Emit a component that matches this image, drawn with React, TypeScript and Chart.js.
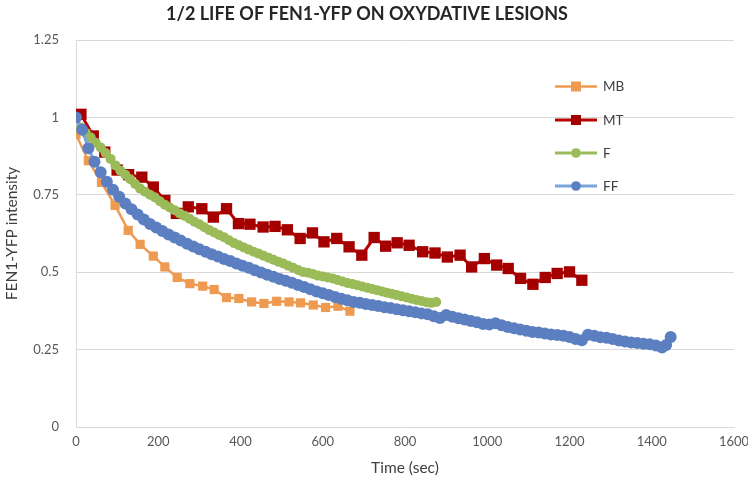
import React, { useEffect, useRef } from "react";
import { Chart, registerables } from "chart.js";

Chart.register(...registerables);

const chartTitle = "1/2 LIFE OF FEN1-YFP ON OXYDATIVE LESIONS";
const xTitle = "Time (sec)";
const yTitle = "FEN1-YFP intensity";
const seriesNames = ["MB", "MT", "F", "FF"];

const mbTime = [0, 30, 62, 95, 127, 156, 188, 216, 246, 277, 308, 336, 366, 396, 427, 457, 488, 518, 546, 577, 607, 637, 666];
const mbValue = [0.945, 0.86, 0.79, 0.716, 0.635, 0.59, 0.552, 0.517, 0.483, 0.463, 0.455, 0.444, 0.418, 0.415, 0.404, 0.399, 0.406, 0.404, 0.401, 0.394, 0.386, 0.39, 0.374];

const mtTime = [12, 42, 70, 100, 128, 160, 188, 216, 244, 273, 306, 334, 366, 395, 423, 455, 484, 514, 545, 575, 603, 634, 664, 695, 725, 753, 781, 810, 843, 873, 903, 934, 962, 993, 1023, 1051, 1081, 1111, 1141, 1170, 1200, 1230];
const mtValue = [1.01, 0.94, 0.888, 0.83, 0.815, 0.807, 0.775, 0.732, 0.69, 0.711, 0.705, 0.678, 0.705, 0.657, 0.655, 0.646, 0.648, 0.637, 0.609, 0.627, 0.598, 0.609, 0.582, 0.555, 0.612, 0.584, 0.595, 0.587, 0.566, 0.562, 0.549, 0.555, 0.517, 0.544, 0.523, 0.512, 0.48, 0.461, 0.483, 0.496, 0.501, 0.474];

const fTime = [0, 12, 24, 36, 48, 60, 72, 84, 96, 108, 120, 132, 144, 156, 168, 180, 192, 204, 216, 228, 240, 252, 264, 276, 288, 300, 312, 324, 336, 348, 360, 372, 384, 396, 408, 420, 432, 444, 456, 468, 480, 492, 504, 516, 528, 540, 552, 564, 576, 588, 600, 612, 624, 636, 648, 660, 672, 684, 696, 708, 720, 732, 744, 756, 768, 780, 792, 804, 816, 828, 840, 852, 864, 876];
const fValue = [1.0, 0.967, 0.95, 0.935, 0.918, 0.903, 0.885, 0.866, 0.845, 0.828, 0.815, 0.8, 0.785, 0.77, 0.76, 0.75, 0.741, 0.729, 0.718, 0.709, 0.7, 0.69, 0.682, 0.673, 0.663, 0.655, 0.645, 0.636, 0.628, 0.62, 0.613, 0.603, 0.594, 0.587, 0.58, 0.573, 0.566, 0.56, 0.553, 0.547, 0.54, 0.534, 0.528, 0.521, 0.514, 0.507, 0.501, 0.498, 0.494, 0.489, 0.486, 0.483, 0.48, 0.475, 0.47, 0.465, 0.462, 0.458, 0.454, 0.45, 0.446, 0.442, 0.438, 0.434, 0.43, 0.426, 0.422, 0.418, 0.414, 0.41, 0.407, 0.403, 0.401, 0.404];

const ffTime = [0, 15, 30, 45, 60, 75, 90, 105, 120, 135, 150, 165, 180, 195, 210, 225, 240, 255, 270, 285, 300, 315, 330, 345, 360, 375, 390, 405, 420, 435, 450, 465, 480, 495, 510, 525, 540, 555, 570, 585, 600, 615, 630, 645, 660, 675, 690, 705, 720, 735, 750, 765, 780, 795, 810, 825, 840, 855, 870, 885, 900, 915, 930, 945, 960, 975, 990, 1005, 1020, 1035, 1050, 1065, 1080, 1095, 1110, 1125, 1140, 1155, 1170, 1185, 1200, 1215, 1230, 1245, 1260, 1275, 1290, 1305, 1320, 1335, 1350, 1365, 1380, 1395, 1410, 1425, 1435, 1446];
const ffValue = [1.0, 0.96, 0.9, 0.857, 0.823, 0.792, 0.766, 0.744, 0.722, 0.703, 0.686, 0.67, 0.656, 0.644, 0.633, 0.622, 0.612, 0.602, 0.592, 0.583, 0.574, 0.566, 0.558, 0.551, 0.543, 0.536, 0.528, 0.521, 0.514, 0.506, 0.499, 0.492, 0.485, 0.478, 0.472, 0.466, 0.459, 0.452, 0.445, 0.438, 0.432, 0.426, 0.42, 0.414, 0.409, 0.404, 0.401, 0.397, 0.394, 0.391, 0.387, 0.384, 0.38, 0.377, 0.374, 0.371, 0.367, 0.364, 0.358, 0.352, 0.362, 0.356, 0.351, 0.347, 0.342, 0.338, 0.333, 0.331, 0.335, 0.329, 0.323, 0.319, 0.315, 0.311, 0.307, 0.305, 0.302, 0.299, 0.297, 0.295, 0.291, 0.284, 0.28, 0.298, 0.295, 0.29, 0.288, 0.284, 0.279, 0.276, 0.273, 0.271, 0.269, 0.267, 0.263, 0.257, 0.265, 0.291];

const xTicks = [0, 200, 400, 600, 800, 1000, 1200, 1400, 1600];
const yTicks = [0, 0.25, 0.5, 0.75, 1, 1.25];

const toPoints = (t: number[], v: number[]) => t.map((x, i) => ({ x, y: v[i] }));

const legendPlugin = {
  id: "insideLegend",
  afterDraw(chart: any) {
    const ctx = chart.ctx as CanvasRenderingContext2D;
    const rows = [86.5, 120, 153, 186];
    chart.data.datasets.forEach((ds: any, i: number) => {
      const y = rows[i];
      ctx.save();
      ctx.strokeStyle = ds.borderColor;
      ctx.lineWidth = ds.borderWidth;
      ctx.beginPath();
      ctx.moveTo(555, y);
      ctx.lineTo(597, y);
      ctx.stroke();
      ctx.fillStyle = ds.pointBackgroundColor;
      if (ds.pointStyle === "rect") {
        ctx.fillRect(576 - 5, y - 5, 10, 10);
      } else {
        ctx.beginPath();
        ctx.arc(576, y, 4.8, 0, Math.PI * 2);
        ctx.fill();
      }
      ctx.fillStyle = "#404040";
      ctx.font = "13.5px Lato";
      ctx.textBaseline = "middle";
      ctx.textAlign = "left";
      ctx.fillText(ds.label, 603, y + 0.5);
      ctx.restore();
    });
  },
};

export default function App() {
  const ref = useRef<HTMLCanvasElement>(null);
  useEffect(() => {
    document.body.style.margin = "0";
    const canvas = ref.current!;
    const tickFont = { family: "Lato", size: 13 };
    const chart = new Chart(canvas, {
      type: "line",
      data: {
        datasets: [
          {
            label: seriesNames[0],
            data: toPoints(mbTime, mbValue),
            borderColor: "#EE9A50",
            backgroundColor: "#EE9A50",
            pointBackgroundColor: "#EE9A50",
            pointBorderColor: "#EE9A50",
            pointBorderWidth: 0,
            pointStyle: "rect",
            pointRadius: 6.5,
            borderWidth: 2.5,
            tension: 0,
            order: 3,
          },
          {
            label: seriesNames[1],
            data: toPoints(mtTime, mtValue),
            borderColor: "#B80000",
            backgroundColor: "#A50000",
            pointBackgroundColor: "#A50000",
            pointBorderColor: "#A50000",
            pointBorderWidth: 0,
            pointStyle: "rect",
            pointRadius: 8,
            borderWidth: 3,
            tension: 0,
            order: 2,
          },
          {
            label: seriesNames[2],
            data: toPoints(fTime, fValue),
            borderColor: "#9BBB59",
            backgroundColor: "#9BBB59",
            pointBackgroundColor: "#9BBB59",
            pointBorderColor: "#9BBB59",
            pointBorderWidth: 0,
            pointStyle: "circle",
            pointRadius: 5,
            borderWidth: 3,
            tension: 0,
            order: 1,
          },
          {
            label: seriesNames[3],
            data: toPoints(ffTime, ffValue),
            borderColor: "#7AA3DA",
            backgroundColor: "#5B7FC1",
            pointBackgroundColor: "#5B7FC1",
            pointBorderColor: "#5B7FC1",
            pointBorderWidth: 0,
            pointStyle: "circle",
            pointRadius: 6,
            borderWidth: 3,
            tension: 0,
            order: 0,
          },
        ],
      },
      options: {
        responsive: false,
        animation: false,
        events: [],
        layout: { padding: { left: 0, right: 14, top: 0, bottom: 0 } },
        plugins: {
          legend: { display: false },
          tooltip: { enabled: false },
          title: {
            display: true,
            text: chartTitle,
            color: "#262626",
            font: { family: "Lato", size: 18, weight: "bold" },
            padding: { top: 3, bottom: 15.4 },
          },
        },
        scales: {
          x: {
            type: "linear",
            min: 0,
            max: 1600,
            afterBuildTicks: (s: any) => {
              s.ticks = xTicks.map((value) => ({ value }));
            },
            ticks: {
              callback: (v: any) => String(v),
              color: "#595959",
              font: tickFont,
              padding: 7,
              maxRotation: 0,
            },
            grid: { display: false, drawTicks: false },
            border: { display: true, color: "#D9D9D9", width: 1 },
            title: {
              display: true,
              text: xTitle,
              color: "#404040",
              font: { family: "Lato", size: 15.5 },
              padding: { top: 0, bottom: 10.7 },
            },
            afterFit: (s: any) => {
              s.height = 61;
              s.paddingLeft = 0;
              s.paddingRight = 0;
            },
          },
          y: {
            type: "linear",
            min: 0,
            max: 1.25,
            afterBuildTicks: (s: any) => {
              s.ticks = yTicks.map((value) => ({ value }));
            },
            ticks: {
              callback: (v: any) => String(v),
              color: "#595959",
              font: tickFont,
              padding: 17,
            },
            grid: { color: "#D9D9D9", drawTicks: false, lineWidth: 1 },
            border: { display: true, color: "#D9D9D9", width: 1 },
            title: {
              display: true,
              text: yTitle,
              color: "#404040",
              font: { family: "Lato", size: 15.5 },
              padding: { top: 3, bottom: 0 },
            },
            afterFit: (s: any) => {
              s.width = 76;
            },
          },
        },
      },
      plugins: [legendPlugin],
    } as any);
    return () => chart.destroy();
  }, []);
  return <canvas ref={ref} width={748} height={488} style={{ display: "block" }} />;
}
